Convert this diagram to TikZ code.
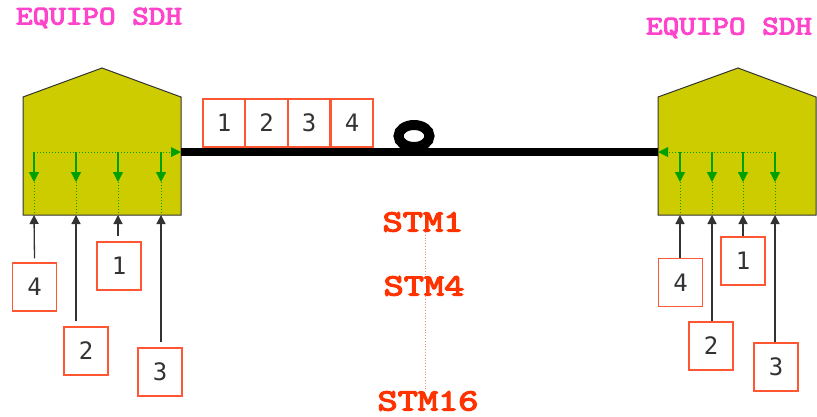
\documentclass[tikz,border=0pt]{standalone}
\usepackage{fontspec}
\newfontfamily\digitfont{DejaVu Sans Mono}
\newfontfamily\heavymono{lmmono10-regular}[Extension=.otf, FakeBold=3.5]
\usetikzlibrary{arrows.meta}
\definecolor{equipcol}{HTML}{CCCC00}
\definecolor{boxred}{HTML}{FF5733}
\definecolor{sdhpink}{HTML}{FF44CC}
\definecolor{stmred}{HTML}{FF3300}
\definecolor{greenarrow}{HTML}{00A000}
\definecolor{darkline}{HTML}{333333}
\tikzset{
  numbox/.style={draw=boxred, line width=1.3pt, fill=white, minimum width=42pt, minimum height=48pt, inner sep=0pt, font=\digitfont\fontsize{24}{24}\selectfont, text=darkline},
  equipbody/.style={fill=equipcol, draw=darkline, line width=1pt, line join=miter},
  sdhlabel/.style={text=sdhpink, font=\heavymono\fontsize{27}{27}\selectfont, inner sep=0pt},
  stmlabel/.style={text=stmred, font=\heavymono\fontsize{31}{31}\selectfont, inner sep=0pt},
  feed/.style={draw=darkline, line width=1.3pt, -{Triangle[width=9pt,length=9pt]}},
  gdot/.style={draw=greenarrow, line width=1pt, dotted},
  garrow/.style={draw=greenarrow, line width=1.3pt, -{Triangle[width=10pt,length=10pt]}},
  gdotarrow/.style={draw=greenarrow, line width=1pt, dotted, -{Triangle[width=10pt,length=10pt,line width=0pt]}},
  fiber/.style={draw=black, line width=8pt},
  stmdot/.style={draw=stmred!60, line width=0.8pt, dotted},
}
\begin{document}
\begin{tikzpicture}[x=1pt,y=-1pt]
\useasboundingbox (0,0) rectangle (817,416);
\fill[white] (0,0) rectangle (817,416);

% labels
\node[sdhlabel] (sdhL) at (99,18) {\scalebox{1.17}[1]{EQUIPO SDH}};
\node[sdhlabel] (sdhR) at (729,28) {\scalebox{1.17}[1]{EQUIPO SDH}};

% equipment bodies
\draw[equipbody] (23,215) -- (23,97) -- (102,68) -- (181,97) -- (181,215) -- cycle;
\draw[equipbody] (658,215) -- (658,97) -- (738,68) -- (816,97) -- (816,215) -- cycle;

% named coordinates
\coordinate (Lout) at (181,152);
\coordinate (Rin) at (658,152);
\foreach \n/\x in {1/34,2/76,3/118,4/161} {
  \coordinate (Lt\n) at (\x,152);
  \coordinate (Lm\n) at (\x,182);
  \coordinate (Lb\n) at (\x,215);
}
\foreach \n/\x in {1/680,2/712,3/743,4/775} {
  \coordinate (Rt\n) at (\x,152);
  \coordinate (Rm\n) at (\x,182);
  \coordinate (Rb\n) at (\x,215);
}

% fiber
\draw[fiber] (Lout) -- (Rin);
\draw[black, line width=10pt] (414,136) ellipse [x radius=15.5pt, y radius=11pt];

% green internal paths left
\draw[gdotarrow] (Lt1) -- (Lout);
\foreach \n in {1,2,3,4} {
  \draw[garrow] (Lt\n) -- (Lm\n);
  \draw[gdot] (Lm\n) -- (Lb\n);
}
% green internal paths right
\draw[gdotarrow] (Rt4) -- (Rin);
\foreach \n in {1,2,3,4} {
  \draw[garrow] (Rt\n) -- (Rm\n);
  \draw[gdot] (Rm\n) -- (Rb\n);
}

% top frame boxes
\node[numbox] (f1) at (224,123) {1};
\node[numbox] (f2) at (266.5,123) {2};
\node[numbox] (f3) at (309,123) {3};
\node[numbox] (f4) at (352,123) {4};

% left tributary boxes
\node[numbox, minimum width=44pt] (l4) at (34.5,287) {4};
\node[numbox, minimum width=44pt] (l1) at (119,266) {1};
\node[numbox, minimum width=44pt] (l2) at (86,351) {2};
\node[numbox, minimum width=44pt] (l3) at (160,372) {3};
\draw[feed] ([yshift=4pt]l4.north) -- (Lb1);
\draw[feed] ([xshift=-10pt,yshift=5pt]l2.north) -- (Lb2);
\draw[feed] ([xshift=-1pt,yshift=5pt]l1.north) -- (Lb3);
\draw[feed] ([xshift=1pt,yshift=5pt]l3.north) -- (Lb4);

% right tributary boxes
\node[numbox, minimum width=44pt] (r4) at (680.5,282.5) {4};
\node[numbox, minimum width=44pt] (r1) at (743,261) {1};
\node[numbox, minimum width=44pt] (r2) at (711,346) {2};
\node[numbox, minimum width=44pt] (r3) at (776,367) {3};
\draw[feed] ([xshift=-0.5pt]r4.north) -- (Rb1);
\draw[feed] ([xshift=1pt]r2.north) -- (Rb2);
\draw[feed] (r1.north) -- (Rb3);
\draw[feed] ([xshift=-1pt]r3.north) -- (Rb4);

% STM labels
\node[stmlabel] (stm1) at (423,222) {\scalebox{1.24}[1]{STM1}};
\node[stmlabel] (stm4) at (424,286) {\scalebox{1.24}[1]{STM4}};
\node[stmlabel] (stm16) at (428,401) {\scalebox{1.24}[1]{STM16}};
\draw[stmdot] (stm1.south -| 425,0) -- (stm4.north -| 425,0);
\draw[stmdot] (stm4.south -| 425,0) -- (stm16.north -| 425,0);
\end{tikzpicture}
\end{document}
